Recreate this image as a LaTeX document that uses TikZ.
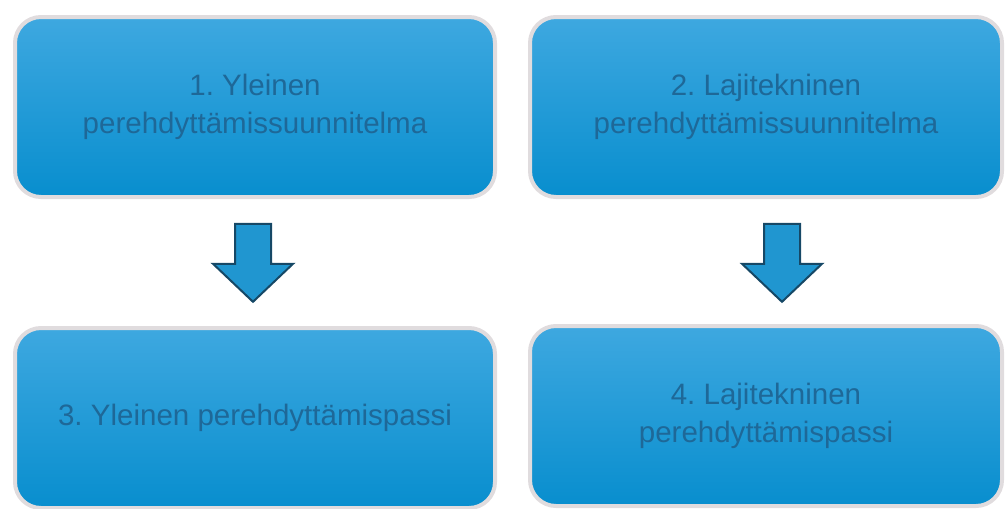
\documentclass[tikz,border=0pt]{standalone}
\usepackage{fontspec}
\setmainfont{Liberation Sans}
\usetikzlibrary{positioning,calc}
\definecolor{boxtop}{RGB}{62,168,224}
\definecolor{boxbot}{RGB}{8,142,206}
\definecolor{boxtext}{RGB}{30,104,152}
\definecolor{boxedge}{RGB}{224,220,222}
\definecolor{arrowfill}{RGB}{32,150,208}
\definecolor{arrowedge}{RGB}{22,72,102}
\frenchspacing
\tikzset{
  stepbox/.style={rectangle, rounded corners=0.65cm, draw=boxedge, line width=0.1cm,
    top color=boxtop, bottom color=boxbot, text=boxtext, align=center,
    minimum width=12cm, minimum height=4.5cm, font=\fontsize{21}{27}\selectfont},
  downarrow/.style={fill=arrowfill, draw=arrowedge, line width=0.05cm, line join=miter}
}
\newcommand{\blockarrow}[1]{%
  \draw[downarrow] ($(#1)+(-0.45,0)$) -- ++(0.9,0) -- ++(0,-1) -- ++(0.55,0)
    -- ($(#1)+(0,-1.95)$) -- ($(#1)+(-1,-1)$) -- ++(0.55,0) -- cycle;}
\begin{document}
\begin{tikzpicture}
\useasboundingbox (0,0) rectangle (25.125,-12.7);
\node[stepbox] (yleinen) at (6.375,-2.675) {1. Yleinen\\perehdyttämissuunnitelma};
\node[stepbox, minimum width=11.8cm] (laji) at (19.15,-2.675) {2. Lajitekninen\\perehdyttämissuunnitelma};
\node[stepbox] (ypassi) at (6.375,-10.45) {3. Yleinen perehdyttämispassi};
\node[stepbox, minimum width=11.8cm] (lpassi) at (19.15,-10.4) {4. Lajitekninen\\perehdyttämispassi};
% block arrows between the rows
\coordinate (a1) at ($(yleinen.south)+(-0.05,-0.62)$);
\coordinate (a2) at ($(laji.south)+(0.4,-0.62)$);
\blockarrow{a1}
\blockarrow{a2}
\end{tikzpicture}
\end{document}
